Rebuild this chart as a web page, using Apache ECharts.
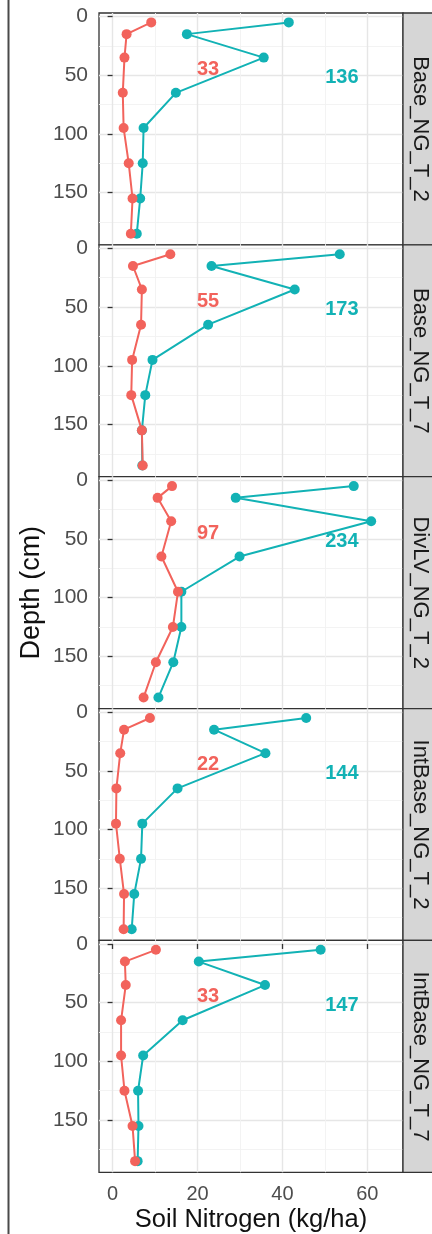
<!DOCTYPE html>
<html>
<head>
<meta charset="utf-8">
<title>Soil nitrogen by depth</title>
<script src="https://cdn.jsdelivr.net/npm/echarts@6/dist/echarts.min.js"></script>
<style>
  html, body { margin: 0; padding: 0; background: #fff; }
  #chart { width: 432px; height: 1234px; }
</style>
</head>
<body>
<div id="chart"></div>
<script>
// Sampling depths (cm), shared by every profile
const depths = [5, 15, 35, 65, 95, 125, 155, 185];

// Facet (treatment) names, top to bottom
const facets = ['Base_NG_T_2', 'Base_NG_T_7', 'DivLV_NG_T_2', 'IntBase_NG_T_2', 'IntBase_NG_T_7'];

// Soil nitrogen (kg/ha) per depth — lower profile (red)
const lowBaseT2    = [9.1, 3.3, 2.8, 2.4, 2.6, 3.8, 4.7, 4.3];
const lowBaseT7    = [13.6, 4.8, 6.9, 6.7, 4.6, 4.4, 6.9, 7.1];
const lowDivLVT2   = [14.0, 10.6, 13.8, 11.5, 15.4, 14.2, 10.2, 7.3];
const lowIntBaseT2 = [8.8, 2.7, 1.8, 0.9, 0.8, 1.7, 2.7, 2.6];
const lowIntBaseT7 = [10.2, 2.9, 3.1, 2.0, 2.0, 2.8, 4.7, 5.3];

// Soil nitrogen (kg/ha) per depth — upper profile (teal)
const highBaseT2    = [41.5, 17.5, 35.6, 14.9, 7.3, 7.1, 6.5, 5.7];
const highBaseT7    = [53.5, 23.3, 42.9, 22.5, 9.4, 7.7, 6.9, 7.0];
const highDivLVT2   = [56.8, 29.0, 60.9, 29.9, 16.2, 16.2, 14.3, 10.8];
const highIntBaseT2 = [45.6, 23.9, 36.0, 15.3, 7.0, 6.7, 5.1, 4.5];
const highIntBaseT7 = [49.0, 20.3, 35.9, 16.5, 7.2, 6.0, 6.1, 5.9];

// Axis tick labels
const xTicks = [0, 20, 40, 60];
const yTicks = [0, 50, 100, 150];

const lowSets  = [lowBaseT2, lowBaseT7, lowDivLVT2, lowIntBaseT2, lowIntBaseT7];
const highSets = [highBaseT2, highBaseT7, highDivLVT2, highIntBaseT2, highIntBaseT7];

// ---- styling / layout ----
const FONT = '"Liberation Sans", Arial, Helvetica, sans-serif';
const RED = '#F2635C';
const TEAL = '#12B2B5';
const PLOT_LEFT = 99, PLOT_RIGHT = 403;
const TOP = 13, BOTTOM = 1172.3;
const N = facets.length;
const PANEL_H = (BOTTOM - TOP) / N;
// where the profile totals are written, in data units [x, depth]
const lowTotalAt = [22.5, 45];
const highTotalAt = [54, 52];

const sum = a => a.reduce((s, v) => s + v, 0);

const grids = [], xAxes = [], yAxes = [], series = [], graphics = [];

for (let i = 0; i < N; i++) {
  const top = TOP + i * PANEL_H;
  const last = i === N - 1;
  grids.push({
    left: PLOT_LEFT, width: PLOT_RIGHT - PLOT_LEFT, top: top, height: PANEL_H,
    show: true, backgroundColor: '#fff', borderColor: '#333', borderWidth: 1.3
  });
  xAxes.push({
    type: 'value', gridIndex: i, min: -3.2, max: 68.4,
    minInterval: 20, maxInterval: 20,
    axisLine: { show: false },
    axisTick: { show: last, length: 5, lineStyle: { color: '#333', width: 1.3 }, customValues: xTicks },
    axisLabel: { show: last, customValues: xTicks, margin: 12, fontSize: 20, color: '#4d4d4d', fontFamily: FONT },
    splitLine: { show: true, lineStyle: { color: '#e6e6e6', width: 1.4 } },
    minorTick: { show: false, splitNumber: 2 },
    minorSplitLine: { show: true, lineStyle: { color: '#f2f2f2', width: 0.9 } }
  });
  yAxes.push({
    type: 'value', gridIndex: i, inverse: true, min: -3, max: 194.5,
    minInterval: 50, maxInterval: 50,
    axisLine: { show: false },
    axisTick: { show: true, length: 5, lineStyle: { color: '#333', width: 1.3 }, customValues: yTicks },
    axisLabel: { customValues: yTicks, margin: 11, fontSize: 21, color: '#4d4d4d', fontFamily: FONT },
    splitLine: { show: true, lineStyle: { color: '#e6e6e6', width: 1.4 } },
    minorTick: { show: false, splitNumber: 2 },
    minorSplitLine: { show: true, lineStyle: { color: '#f2f2f2', width: 0.9 } }
  });

  const low = lowSets[i], high = highSets[i];
  const profile = (name, vals, color, z) => ({
    name: name, type: 'line', xAxisIndex: i, yAxisIndex: i, z: z,
    data: vals.map((v, k) => [v, depths[k]]),
    symbol: 'circle', symbolSize: 10, showSymbol: true,
    lineStyle: { color: color, width: 2 },
    itemStyle: { color: color },
    animation: false
  });
  series.push(profile('High N', high, TEAL, 3));
  series.push(profile('Low N', low, RED, 4));

  // profile totals, computed from the depth values
  const total = (pos, vals, color) => ({
    type: 'scatter', xAxisIndex: i, yAxisIndex: i, silent: true, z: 5,
    symbolSize: 0,
    itemStyle: { color: color, opacity: 1 },
    data: [[pos[0], pos[1], Math.round(sum(vals))]],
    label: {
      show: true, position: 'inside', formatter: p => String(p.value[2]),
      color: color, opacity: 1, fontSize: 20, fontWeight: 'bold', fontFamily: FONT
    },
    animation: false
  });
  series.push(total(lowTotalAt, low, RED));
  series.push(total(highTotalAt, high, TEAL));

  // facet strip on the right
  graphics.push({
    type: 'rect', shape: { x: PLOT_RIGHT, y: top, width: 60, height: PANEL_H },
    style: { fill: '#d6d6d6', stroke: '#333', lineWidth: 1.3 }, z: 10
  });
  graphics.push({
    type: 'text', x: 420, y: top + PANEL_H / 2, rotation: -Math.PI / 2,
    style: {
      text: facets[i], fill: '#1a1a1a', fontSize: 22, fontFamily: FONT,
      textAlign: 'center', textVerticalAlign: 'middle'
    }, z: 11
  });
}

// axis titles
graphics.push({
  type: 'text', x: 32, y: (TOP + BOTTOM) / 2, rotation: Math.PI / 2,
  style: { text: 'Depth (cm)', fill: '#111', fontSize: 27, fontFamily: FONT,
           textAlign: 'center', textVerticalAlign: 'middle' }, z: 11
});
graphics.push({
  type: 'text', x: (PLOT_LEFT + PLOT_RIGHT) / 2, y: 1220,
  style: { text: 'Soil Nitrogen (kg/ha)', fill: '#111', fontSize: 25.5, fontFamily: FONT,
           textAlign: 'center', textVerticalAlign: 'middle' }, z: 11
});
// frame rule along the left side of the figure
graphics.push({
  type: 'line', shape: { x1: 8.5, y1: 0, x2: 8.5, y2: 1234 },
  style: { stroke: '#4a4a4a', lineWidth: 2 }, z: 11
});

const chart = echarts.init(document.getElementById('chart'), null, { renderer: 'canvas' });
chart.setOption({
  backgroundColor: '#fff',
  animation: false,
  grid: grids,
  xAxis: xAxes,
  yAxis: yAxes,
  series: series,
  graphic: graphics
});
</script>
</body>
</html>
